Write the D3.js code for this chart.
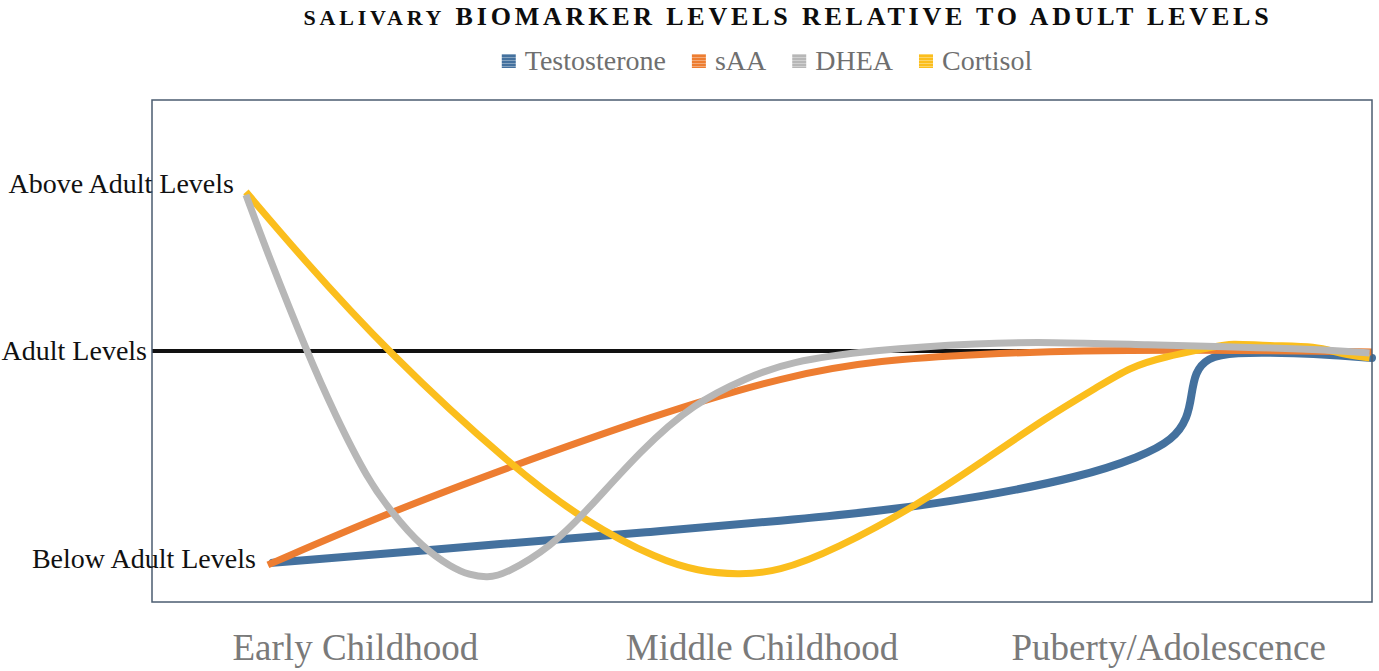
<!DOCTYPE html>
<html>
<head>
<meta charset="utf-8">
<script src="https://cdn.jsdelivr.net/npm/d3@7"></script>
<style>
    html, body { margin: 0; padding: 0; background: #fff; }
    svg { display: block; }
</style>
</head>
<body>
<svg id="chart" width="1379" height="671"></svg>
<script>
// stages along the x axis
const stages = ["Early Childhood", "Middle Childhood", "Puberty/Adolescence"]

// level labels on the y axis (0 = bottom of plot, 100 = top)
const levelLabels = ["Above Adult Levels", "Adult Levels", "Below Adult Levels"]
const levelValues = [83.3, 50, 8.6]
const levelAttachedTo = ["Cortisol", null, "sAA"] // label sits just left of that curve's start

const adultLevel = 50

// traced curves, [progress 0-100, level 0-100]
const testosterone = [
    [9.9, 7.8], [29.8, 11.8], [40.8, 13.9], [52.1, 16.3], [59.7, 18.1], [67.9, 20.9],
    [76.1, 24.9], [81.0, 28.9], [83.7, 32.3], [84.9, 36.7], [85.2, 41.2], [85.5, 45.8],
    [86.5, 48.6], [88.4, 49.8], [94.1, 49.6], [96.8, 49.2], [100, 48.6]
]
const sAA = [
    [9.5, 7.4], [19.3, 17.7], [29.3, 26.9], [40.8, 36.9], [52.1, 45.2], [59.7, 48.2],
    [67.9, 49.4], [76.1, 50.1], [85.9, 50.2], [94.1, 50.0], [100, 49.8]
]
const dhea = [
    [7.7, 81.1], [9.5, 69.3], [12.7, 49.8], [15.0, 37.3], [17.7, 24.3], [19.7, 17.7],
    [22.1, 11.0], [24.6, 6.8], [26.0, 5.4], [27.5, 4.8], [29.0, 5.6], [32.7, 11.0],
    [35.7, 18.3], [40.1, 30.3], [44.4, 39.6], [48.9, 44.8], [52.1, 47.8], [59.0, 50.2],
    [68.1, 51.6], [73.4, 51.8], [81.8, 51.2], [89.2, 50.8], [96.8, 50.2], [99.8, 49.6]
]
const cortisol = [
    [7.7, 81.7], [12.1, 69.1], [19.3, 49.8], [29.5, 26.9], [35.7, 15.7], [41.6, 8.4],
    [44.7, 6.2], [48.0, 5.4], [51.3, 6.0], [56.0, 10.4], [63.0, 19.7], [67.9, 27.7],
    [73.4, 36.9], [77.5, 42.8], [80.2, 46.8], [82.9, 48.8], [87.0, 50.8], [88.4, 51.6],
    [91.4, 51.0], [95.5, 51.0], [97.4, 49.4], [99.8, 48.6]
]

const series = [
    { name: "Testosterone", values: testosterone, color: "#44719e" },
    { name: "sAA", values: sAA, color: "#ed7d31" },
    { name: "DHEA", values: dhea, color: "#b7b7b7" },
    { name: "Cortisol", values: cortisol, color: "#fbbe1d" },
]
// curves are stacked a little differently from the legend order
const drawOrder = ["Testosterone", "sAA", "Cortisol", "DHEA"]

const margin = { top: 100, right: 7, bottom: 69, left: 152 }
const width = 1379
const height = 671

const svg = d3.select("#chart")

const x = d3.scaleLinear()
    .domain([0, 100])
    .range([margin.left, width - margin.right])
const y = d3.scaleLinear()
    .domain([0, 100])
    .range([height - margin.bottom, margin.top])
const xStage = d3.scaleBand()
    .domain(stages)
    .range(x.range())

const serif = "'Liberation Serif', 'Times New Roman', serif"

// title
const title = svg.append("text")
    .attr("x", 788)
    .attr("y", 25)
    .attr("text-anchor", "middle")
    .attr("font-family", serif)
    .attr("font-weight", "bold")
    .attr("letter-spacing", 3.8)
    .attr("fill", "#0d0d0d")
title.append("tspan").attr("font-size", 22).text("SALIVARY")
title.append("tspan").attr("font-size", 26).text(" BIOMARKER LEVELS RELATIVE TO ADULT LEVELS")

// legend
const defs = svg.append("defs")
series.forEach((s, i) => {
    const pat = defs.append("pattern")
        .attr("id", `stripe-${i}`)
        .attr("patternUnits", "userSpaceOnUse")
        .attr("width", 4)
        .attr("height", 3)
    pat.append("rect").attr("width", 4).attr("height", 3).attr("fill", s.color)
    pat.append("rect").attr("y", 2).attr("width", 4).attr("height", 1)
        .attr("fill", "#fff").attr("opacity", 0.35)
})

const legend = svg.append("g")
const swatch = 14
const textGap = 9
const itemGap = 26
let lx = 0
series.forEach((s, i) => {
    const item = legend.append("g").attr("transform", `translate(${lx},0)`)
    item.append("rect")
        .attr("y", -swatch / 2)
        .attr("width", swatch)
        .attr("height", swatch)
        .attr("fill", `url(#stripe-${i})`)
    const t = item.append("text")
        .attr("x", swatch + textGap)
        .attr("y", 9)
        .attr("font-family", serif)
        .attr("font-size", 28)
        .attr("fill", "#6f6f6f")
        .text(s.name)
    lx += swatch + textGap + t.node().getComputedTextLength() + itemGap
})
const legendWidth = lx - itemGap
legend.attr("transform", `translate(${767 - legendWidth / 2},61)`)

// plot area
const plot = svg.append("g")

plot.append("line")
    .attr("x1", x(0))
    .attr("x2", x(100))
    .attr("y1", y(adultLevel))
    .attr("y2", y(adultLevel))
    .attr("stroke", "#111")
    .attr("stroke-width", 4)

// b-spline smooths out the wobble of hand-traced points
const line = d3.line()
    .x(d => x(d[0]))
    .y(d => y(d[1]))
    .curve(d3.curveBasis)

const byName = new Map(series.map(s => [s.name, s]))

plot.selectAll("path.curve")
    .data(drawOrder.map(n => byName.get(n)))
    .join("path")
    .attr("class", "curve")
    .attr("d", d => line(d.values))
    .attr("fill", "none")
    .attr("stroke", d => d.color)
    .attr("stroke-width", d => d.name === "Testosterone" ? 8 : 7)
    .attr("stroke-linecap", d => d.name === "Testosterone" ? "round" : "butt")
    .attr("stroke-linejoin", "round")

plot.append("rect")
    .attr("x", x(0))
    .attr("y", y(100))
    .attr("width", x(100) - x(0))
    .attr("height", y(0) - y(100))
    .attr("fill", "none")
    .attr("stroke", "#4b5c70")
    .attr("stroke-width", 1.5)

// level labels
svg.append("g")
    .selectAll("text")
    .data(levelLabels)
    .join("text")
    .attr("x", (d, i) => {
        const s = byName.get(levelAttachedTo[i])
        return s ? x(s.values[0][0]) - 12 : x(0) - 5
    })
    .attr("y", (d, i) => y(levelValues[i]))
    .attr("dy", "0.31em")
    .attr("text-anchor", "end")
    .attr("font-family", serif)
    .attr("font-size", 28)
    .attr("fill", "#111")
    .text(d => d)

// stage labels
svg.append("g")
    .selectAll("text")
    .data(stages)
    .join("text")
    .attr("x", d => xStage(d) + xStage.bandwidth() / 2)
    .attr("y", 660)
    .attr("text-anchor", "middle")
    .attr("font-family", serif)
    .attr("font-size", 37)
    .attr("fill", "#7a7a7a")
    .text(d => d)
</script>
</body>
</html>
